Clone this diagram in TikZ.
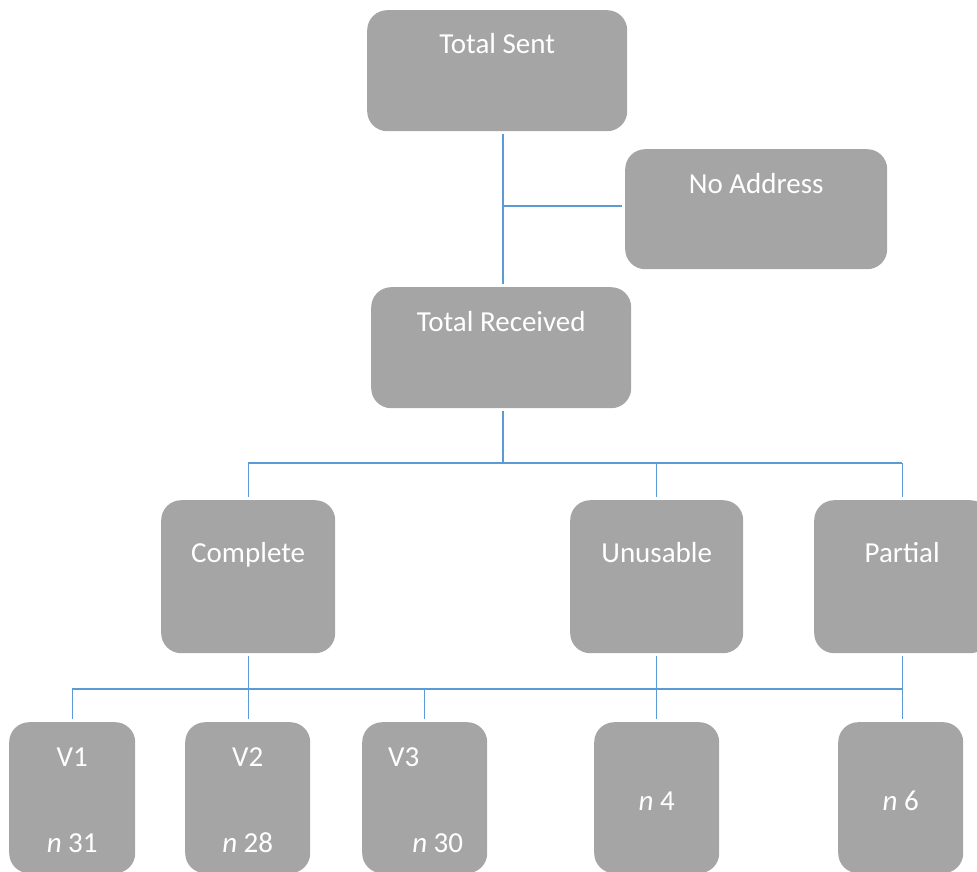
\documentclass[tikz,border=0pt]{standalone}
\usepackage{fontspec}
\setmainfont{Carlito}
\definecolor{boxgray}{HTML}{A5A5A5}
\definecolor{linkblue}{HTML}{5B9BD5}
\tikzset{
  box/.style={fill=boxgray, draw=none, rounded corners=20pt, inner sep=0pt, anchor=north west},
  txt/.style={text=white, font=\fontsize{29}{34}\selectfont, anchor=base, inner sep=0pt},
  conn/.style={draw=linkblue, line width=1.2pt},
  gap/.style={shorten <=3pt, shorten >=3pt},
}
\begin{document}
\begin{tikzpicture}[x=1pt,y=-1pt]
\useasboundingbox (0,0) rectangle (977,872);
\clip (0,0) rectangle (977,872);
% boxes
\node[box, minimum width=260pt, minimum height=121pt] (ts) at (367,10) {};
\node[box, minimum width=262pt, minimum height=120pt] (na) at (625,149) {};
\node[box, minimum width=260pt, minimum height=121pt] (tr) at (371,287) {};
\node[box, minimum width=174pt, minimum height=153pt] (comp) at (161,500) {};
\node[box, minimum width=173pt, minimum height=153pt] (unus) at (570,500) {};
\node[box, minimum width=176pt, minimum height=153pt] (part) at (814,500) {};
\node[box, minimum width=126pt, minimum height=151pt] (v1) at (9,722) {};
\node[box, minimum width=125pt, minimum height=151pt] (v2) at (185,722) {};
\node[box, minimum width=125pt, minimum height=151pt] (v3) at (362,722) {};
\node[box, minimum width=125pt, minimum height=151pt] (b4) at (594,722) {};
\node[box, minimum width=125pt, minimum height=151pt] (b6) at (838,722) {};
% texts
\node[txt] (tsT) at ([yshift=-44pt]ts.north) {Total Sent};
\node[txt] (naT) at ([yshift=-44pt]na.north) {No Address};
\node[txt] (trT) at ([yshift=-44pt]tr.north) {Total Received};
\node[txt] (compT) at ([yshift=-62pt]comp.north) {Complete};
\node[txt] (unusT) at ([yshift=-62pt]unus.north) {Unusable};
\node[txt] (partT) at ([yshift=-62pt]part.north) {Partial};
\node[txt] (v1T) at ([yshift=-44pt]v1.north) {V1};
\node[txt] (v1N) at ([yshift=-130pt]v1.north) {\textit{n} 31};
\node[txt] (v2T) at ([yshift=-44pt]v2.north) {V2};
\node[txt] (v2N) at ([yshift=-130pt]v2.north) {\textit{n} 28};
\node[txt] (v3T) at ([xshift=-21pt,yshift=-44pt]v3.north) {V3};
\node[txt] (v3N) at ([xshift=13pt,yshift=-130pt]v3.north) {\textit{n} 30};
\node[txt] (b4N) at ([yshift=-88pt]b4.north) {\textit{n} 4};
\node[txt] (b6N) at ([yshift=-88pt]b6.north) {\textit{n} 6};
% junctions
\coordinate (j1) at (503,206);
\coordinate (j2) at (503,463);
\coordinate (j3) at (503,689);
% connectors
\draw[conn, gap] (ts.south -| j1) -- (tr.north -| j1);
\draw[conn, shorten >=3pt] (j1) -- (na.west |- j1);
\draw[conn, shorten <=3pt] (tr.south -| j2) -- (j2);
\draw[conn] (comp.north |- j2) -- (part.north |- j2);
\draw[conn, shorten >=3pt] (comp.north |- j2) -- (comp.north);
\draw[conn, shorten >=3pt] (unus.north |- j2) -- (unus.north);
\draw[conn, shorten >=3pt] (part.north |- j2) -- (part.north);
\draw[conn] (v1.north |- j3) -- (part.south |- j3);
\draw[conn, gap] (comp.south) -- (comp.south |- v2.north);
\draw[conn, gap] (unus.south) -- (unus.south |- b4.north);
\draw[conn, gap] (part.south) -- (part.south |- b6.north);
\draw[conn, shorten >=3pt] (v1.north |- j3) -- (v1.north);
\draw[conn, shorten >=3pt] (v3.north |- j3) -- (v3.north);
\end{tikzpicture}
\end{document}
